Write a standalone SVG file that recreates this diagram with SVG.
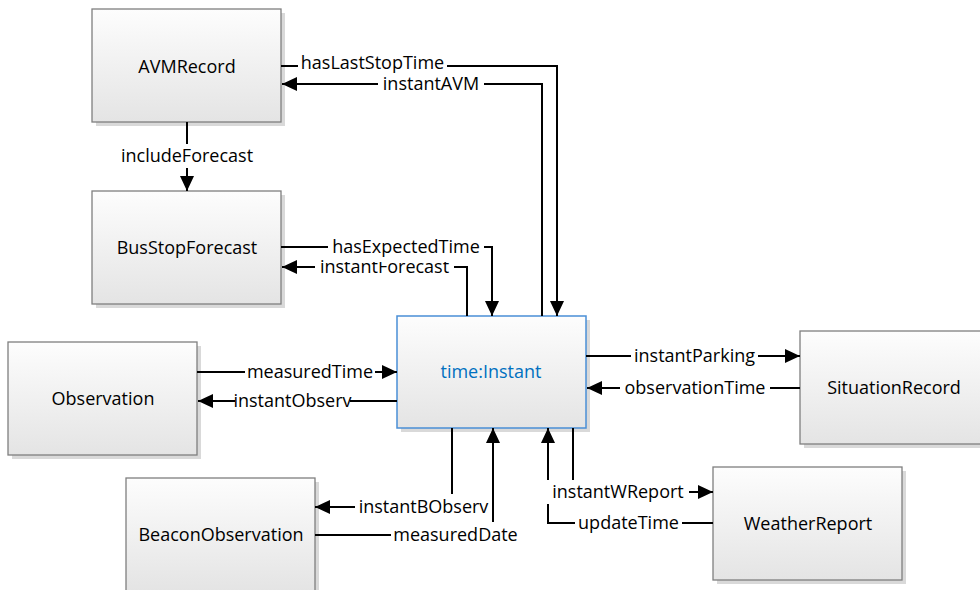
<svg xmlns="http://www.w3.org/2000/svg" width="980" height="590" viewBox="0 0 980 590">
<defs>
<linearGradient id="g" x1="0" y1="0" x2="0" y2="1">
<stop offset="0" stop-color="#fdfdfd"/>
<stop offset="1" stop-color="#e4e4e4"/>
</linearGradient>
<marker id="arr" markerUnits="userSpaceOnUse" markerWidth="16" markerHeight="14" refX="15" refY="7" orient="auto">
<path d="M0,0 L15,7 L0,14 z" fill="#000"/>
</marker>
</defs>
<style>
.sh{fill:#d9d9d9}
.box{fill:url(#g);stroke:#7f7f7f;stroke-width:1.3}
.boxb{fill:url(#g);stroke:#4a8fd6;stroke-width:1.5}
.nt{font-family:"Open Sans","Liberation Sans",sans-serif;font-size:18px;fill:#000;text-anchor:middle}
.nb{fill:#0070c0}
.ln{fill:none;stroke:#000;stroke-width:2;marker-end:url(#arr)}
.lb{fill:#fff}
.lt{font-family:"Open Sans","Liberation Sans",sans-serif;font-size:18px;fill:#000;text-anchor:middle}
</style>
<rect width="980" height="590" fill="#fff"/>
<g id="AVMRecord">
<rect class="sh" x="96" y="13" width="189" height="113"/>
<rect class="box" x="92" y="9" width="189" height="113"/>
<text class="nt" x="187" y="73">AVMRecord</text>
</g>
<g id="BusStopForecast">
<rect class="sh" x="96" y="195" width="189" height="113"/>
<rect class="box" x="92" y="191" width="189" height="113"/>
<text class="nt" x="187" y="254">BusStopForecast</text>
</g>
<g id="Observation">
<rect class="sh" x="12" y="346" width="189" height="113"/>
<rect class="box" x="8" y="342" width="189" height="113"/>
<text class="nt" x="103" y="405">Observation</text>
</g>
<g id="TimeInstant">
<rect class="sh" x="401" y="320" width="189" height="112"/>
<rect class="boxb" x="397" y="316" width="189" height="112"/>
<text class="nt nb" x="491" y="378">time:Instant</text>
</g>
<g id="SituationRecord">
<rect class="sh" x="804" y="335" width="189" height="113"/>
<rect class="box" x="800" y="331" width="189" height="113"/>
<text class="nt" x="894" y="394">SituationRecord</text>
</g>
<g id="BeaconObservation">
<rect class="sh" x="130" y="482" width="189" height="113"/>
<rect class="box" x="126" y="478" width="189" height="113"/>
<text class="nt" x="221" y="541">BeaconObservation</text>
</g>
<g id="WeatherReport">
<rect class="sh" x="717" y="471" width="189" height="113"/>
<rect class="box" x="713" y="467" width="189" height="113"/>
<text class="nt" x="808" y="530">WeatherReport</text>
</g>
<g id="connectors">
<path class="ln" d="M281,66 H557 V316"/>
<path class="ln" d="M542,316 V84 H282"/>
<path class="ln" d="M187,122 V191"/>
<path class="ln" d="M281,247 H492 V316"/>
<path class="ln" d="M467,316 V267 H282"/>
<path class="ln" d="M197,372 H397"/>
<path class="ln" d="M397,401 H198"/>
<path class="ln" d="M586,356 H800"/>
<path class="ln" d="M800,388 H587"/>
<path class="ln" d="M452,428 V507 H315"/>
<path class="ln" d="M315,535 H493 V428"/>
<path class="ln" d="M573,428 V492 H713"/>
<path class="ln" d="M713,523 H548 V428"/>
</g>
<g id="labels">
<rect class="lb" x="298" y="53" width="149" height="22"/>
<text class="lt" x="372.5" y="69">hasLastStopTime</text>
<rect class="lb" x="378" y="75" width="106" height="21"/>
<text class="lt" x="431" y="90">instantAVM</text>
<rect class="lb" x="116" y="144" width="141" height="24"/>
<text class="lt" x="187" y="162">includeForecast</text>
<rect class="lb" x="315" y="256" width="139" height="22"/>
<text class="lt" x="384.5" y="273">instantForecast</text>
<rect class="lb" x="328" y="236" width="156" height="26"/>
<text class="lt" x="406" y="253">hasExpectedTime</text>
<rect class="lb" x="245" y="361" width="130" height="23"/>
<text class="lt" x="310" y="378">measuredTime</text>
<rect class="lb" x="235" y="390" width="115" height="23"/>
<text class="lt" x="292.5" y="407">instantObserv</text>
<rect class="lb" x="631" y="345" width="127" height="23"/>
<text class="lt" x="694.5" y="362">instantParking</text>
<rect class="lb" x="620" y="377" width="150" height="23"/>
<text class="lt" x="695" y="394">observationTime</text>
<rect class="lb" x="355" y="494" width="137" height="25"/>
<text class="lt" x="423.5" y="513">instantBObserv</text>
<rect class="lb" x="391" y="522" width="129" height="25"/>
<text class="lt" x="455.5" y="541">measuredDate</text>
<rect class="lb" x="547" y="480" width="142" height="24"/>
<text class="lt" x="618" y="498">instantWReport</text>
<rect class="lb" x="575" y="512" width="107" height="23"/>
<text class="lt" x="628.5" y="529">updateTime</text>
</g>
</svg>
